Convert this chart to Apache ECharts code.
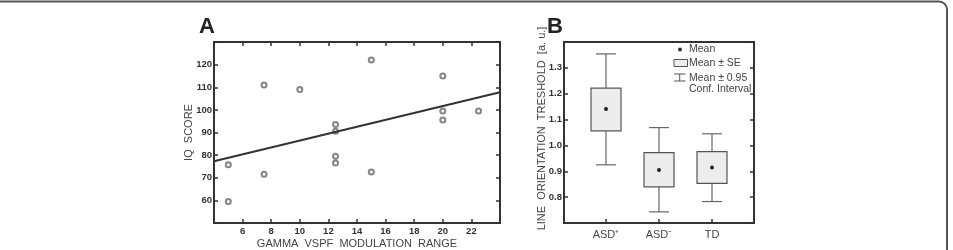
<!DOCTYPE html>
<html>
<head>
<meta charset="utf-8">
<script src="https://cdn.jsdelivr.net/npm/echarts@6/dist/echarts.min.js"></script>
<style>
  html, body { margin: 0; padding: 0; background: #fff; }
  #chart { width: 953px; height: 250px; }
</style>
</head>
<body>
<div id="chart"></div>
<script>
// panel A: IQ score vs gamma VSPF modulation range
var gammaRange = [5, 5, 7.5, 7.5, 10, 12.5, 12.5, 12.5, 12.5, 15, 15, 20, 20, 20, 22.5];
var iqScore = [75.8, 59.5, 111, 71.5, 109, 93.5, 90.5, 79.5, 76.5, 122, 72.5, 115, 99.5, 95.5, 99.5];
var fitX = [4, 24];
var fitY = [77.3, 107.8];
var xTickLabels = [6, 8, 10, 12, 14, 16, 18, 20, 22];
var yTickLabels = [60, 70, 80, 90, 100, 110, 120];

// panel B: line orientation threshold per group
var groups = ['ASD⁺', 'ASD⁻', 'TD'];
var means = [1.141, 0.905, 0.915];
var seLow = [1.056, 0.840, 0.853];
var seHigh = [1.222, 0.972, 0.976];
var ciLow = [0.925, 0.743, 0.783];
var ciHigh = [1.354, 1.069, 1.045];
var bTickLabels = [0.8, 0.9, 1.0, 1.1, 1.2, 1.3];

var tickFont = 'Liberation Sans, Arial, sans-serif';
var textFont = 'Liberation Sans, Arial, sans-serif';

var scatterData = gammaRange.map(function (x, i) { return [x, iqScore[i]]; });
var fitData = fitX.map(function (x, i) { return [x, fitY[i]]; });
var boxData = groups.map(function (g, i) {
    return [g, means[i], seLow[i], seHigh[i], ciLow[i], ciHigh[i]];
});

function tickStyle() {
    return { show: true, inside: true, length: 4, lineStyle: { color: '#333', width: 1.5 } };
}

function renderBox(params, api) {
    var x = api.value(0);
    var pMean = api.coord([x, api.value(1)]);
    var pSeL = api.coord([x, api.value(2)]);
    var pSeH = api.coord([x, api.value(3)]);
    var pCiL = api.coord([x, api.value(4)]);
    var pCiH = api.coord([x, api.value(5)]);
    var cx = pMean[0];
    var half = 15, cap = 10;
    var lineSt = { stroke: '#666', lineWidth: 1.2 };
    return {
        type: 'group',
        children: [
            { type: 'line', shape: { x1: cx, y1: pCiH[1], x2: cx, y2: pSeH[1] }, style: lineSt },
            { type: 'line', shape: { x1: cx, y1: pSeL[1], x2: cx, y2: pCiL[1] }, style: lineSt },
            { type: 'line', shape: { x1: cx - cap, y1: pCiH[1], x2: cx + cap, y2: pCiH[1] }, style: lineSt },
            { type: 'line', shape: { x1: cx - cap, y1: pCiL[1], x2: cx + cap, y2: pCiL[1] }, style: lineSt },
            { type: 'rect', shape: { x: cx - half, y: pSeH[1], width: half * 2, height: pSeL[1] - pSeH[1] },
              style: { fill: '#ededed', stroke: '#555', lineWidth: 1.2 } },
            { type: 'circle', shape: { cx: cx, cy: pMean[1], r: 2 }, style: { fill: '#222' } }
        ]
    };
}

var myChart = echarts.init(document.getElementById('chart'));
var option = {
    animation: false,
    backgroundColor: '#fff',
    grid: [
        // panel A
        { left: 214, top: 42, width: 286, height: 181, show: true, borderColor: '#333', borderWidth: 2, outerBoundsMode: 'none' },
        // panel B frame (y axis)
        { left: 564, top: 42, width: 190, height: 181, show: true, borderColor: '#333', borderWidth: 2, outerBoundsMode: 'none' },
        // panel B data area (categories)
        { left: 579.5, top: 42, width: 159, height: 181, outerBoundsMode: 'none' }
    ],
    xAxis: [
        {
            gridIndex: 0, type: 'value', min: 4, max: 24, interval: 2,
            name: 'GAMMA  VSPF  MODULATION  RANGE', nameLocation: 'middle', nameGap: 21, nameMoveOverlap: false,
            nameTextStyle: { fontFamily: textFont, fontSize: 11, color: '#444', verticalAlign: 'middle' },
            axisLine: { show: false }, splitLine: { show: false },
            axisTick: tickStyle(),
            axisLabel: { customValues: xTickLabels, margin: 3, fontFamily: tickFont, fontWeight: 'bold', fontSize: 9.5, color: '#333' }
        },
        {
            gridIndex: 0, type: 'value', position: 'top', min: 4, max: 24, interval: 2,
            axisLine: { show: false }, splitLine: { show: false },
            axisTick: tickStyle(), axisLabel: { show: false }
        },
        {
            gridIndex: 1, type: 'value', min: 0, max: 1, show: false
        },
        {
            gridIndex: 2, type: 'category', data: groups, boundaryGap: true,
            axisLine: { show: false }, splitLine: { show: false },
            axisTick: { show: true, inside: true, length: 4, alignWithLabel: true, lineStyle: { color: '#333', width: 1.5 } },
            axisLabel: { margin: 6, fontFamily: textFont, fontSize: 11, color: '#444' }
        }
    ],
    yAxis: [
        {
            gridIndex: 0, type: 'value', min: 50, max: 130, interval: 10,
            name: 'IQ  SCORE', nameLocation: 'middle', nameGap: 25, nameMoveOverlap: false,
            nameTextStyle: { fontFamily: textFont, fontSize: 11, color: '#444', verticalAlign: 'middle' },
            axisLine: { show: false }, splitLine: { show: false },
            axisTick: tickStyle(),
            axisLabel: { customValues: yTickLabels, margin: 2, fontFamily: tickFont, fontWeight: 'bold', fontSize: 9.5, color: '#333' }
        },
        {
            gridIndex: 0, type: 'value', position: 'right', min: 50, max: 130, interval: 10,
            axisLine: { show: false }, splitLine: { show: false },
            axisTick: tickStyle(), axisLabel: { show: false }
        },
        {
            gridIndex: 1, type: 'value', min: 0.7, max: 1.4, interval: 0.1,
            name: 'LINE  ORIENTATION  TRESHOLD  [a. u.]', nameLocation: 'middle', nameGap: 22, nameMoveOverlap: false,
            nameTextStyle: { fontFamily: textFont, fontSize: 11, color: '#444', verticalAlign: 'middle', padding: [0, 0, 0, 8] },
            axisLine: { show: false }, splitLine: { show: false },
            axisTick: tickStyle(),
            axisLabel: {
                customValues: bTickLabels, margin: 2, fontFamily: tickFont, fontWeight: 'bold', fontSize: 9.5, color: '#333',
                formatter: function (v) { return v.toFixed(1); }
            }
        },
        {
            gridIndex: 1, type: 'value', position: 'right', min: 0.7, max: 1.4, interval: 0.1,
            axisLine: { show: false }, splitLine: { show: false },
            axisTick: tickStyle(), axisLabel: { show: false }
        },
        {
            gridIndex: 2, type: 'value', min: 0.7, max: 1.4, show: false
        }
    ],
    series: [
        {
            type: 'scatter', xAxisIndex: 0, yAxisIndex: 0, data: scatterData,
            symbol: 'emptyCircle', symbolSize: 5,
            itemStyle: { color: '#666', borderColor: '#666', borderWidth: 1.6 }
        },
        {
            type: 'line', xAxisIndex: 0, yAxisIndex: 0, data: fitData,
            symbol: 'none', lineStyle: { color: '#333', width: 2 }
        },
        {
            type: 'custom', xAxisIndex: 3, yAxisIndex: 4, data: boxData,
            renderItem: renderBox, encode: { x: 0, y: [1, 2, 3, 4, 5] }
        }
    ],
    graphic: [
        { type: 'rect', shape: { x: -20, y: 1.5, width: 967, height: 300, r: 8 },
          style: { fill: 'none', stroke: '#555', lineWidth: 2 } },
        { type: 'text', left: 199, top: 16, style: { text: 'A', font: 'bold 22px ' + textFont, fill: '#222' } },
        { type: 'text', left: 547, top: 16, style: { text: 'B', font: 'bold 22px ' + textFont, fill: '#222' } },
        { type: 'circle', shape: { cx: 680, cy: 49.5, r: 2 }, style: { fill: '#333' } },
        { type: 'text', x: 689, y: 49.5, style: { text: 'Mean', font: '10.5px ' + textFont, fill: '#444', verticalAlign: 'middle' } },
        { type: 'rect', shape: { x: 674, y: 59.5, width: 13.5, height: 7 }, style: { fill: '#ededed', stroke: '#555', lineWidth: 1 } },
        { type: 'text', x: 689, y: 63.3, style: { text: 'Mean ± SE', font: '10.5px ' + textFont, fill: '#444', verticalAlign: 'middle' } },
        { type: 'polyline', shape: { points: [[674, 74], [685.5, 74]] }, style: { stroke: '#555', lineWidth: 1 } },
        { type: 'polyline', shape: { points: [[674, 81], [685.5, 81]] }, style: { stroke: '#555', lineWidth: 1 } },
        { type: 'polyline', shape: { points: [[679.7, 74], [679.7, 81]] }, style: { stroke: '#555', lineWidth: 1 } },
        { type: 'text', x: 689, y: 77.7, style: { text: 'Mean ± 0.95', font: '10.5px ' + textFont, fill: '#444', verticalAlign: 'middle' } },
        { type: 'text', x: 689, y: 88.7, style: { text: 'Conf. Interval', font: '10.5px ' + textFont, fill: '#444', verticalAlign: 'middle' } }
    ]
};
myChart.setOption(option);
</script>
</body>
</html>
